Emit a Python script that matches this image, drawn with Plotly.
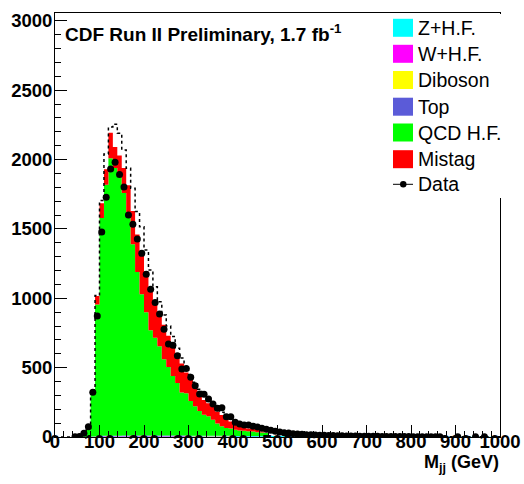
import plotly.graph_objects as go

# ---------------- data (10 GeV bins, 0..1000 GeV) ----------------
bin_edges = list(range(0, 1010, 10))
bin_centers = [e + 5 for e in bin_edges[:-1]]

data_counts = (
    [None, None, None, None, 2, 3, 27, 74, 322, 872]
    + [1478, 1729, 1933, 1981, 1892, 1802, 1600, 1534, 1427, 1324]
    + [1173, 1065, 969, 887, 776, 670, 662, 586, 490, 494]
    + [430, 370, 310, 308, 274, 238, 208, 210, 146, 146]
    + [106, 94, 87, 86, 78, 72, 63, 55, 48, 42]
    + [36, 31, 28, 24, 22, 19, 17, 16, 14, 13]
    + [12, 11, 10, 9, 9, 8, 7, 7, 6, 6]
    + [5, 5, 5, 4, 4, 4, 3, 3, 3, 3]
    + [2, 2, 1, 2, 1, 1, 1, None, None, None]
    + [1, None, None, None, 1, None, 1, None, None, None]
)

z_hf = (
    [0, 0, 0, 0, 0, 0, 1, 1, 2, 3]
    + [4] * 10 + [4] * 10 + [4] * 10
    + [5, 5, 5, 5, 5, 5, 5, 5, 8, 8]
    + [7, 6, 5, 4, 3, 3, 3, 2, 2, 2]
    + [2] * 10 + [2] * 10 + [1] * 10 + [1] * 10
)
w_hf = (
    [0, 0, 0, 0, 0, 0, 0, 1, 2, 3]
    + [3] * 10 + [3] * 10 + [2] * 10
    + [1, 1, 1, 1, 1, 1, 1, 1, 0, 0]
    + [0] * 50
)
diboson = [0] * 10 + [1] * 30 + [0] * 60
top = [0] * 10 + [1, 1, 1, 1, 1, 2, 2, 2, 2, 2] + [2] * 20 + [1, 1, 1, 1, 1, 1, 1, 1, 0, 0] + [0] * 50
qcd_hf = (
    [0, 0, 0, 0, 0, 0, 15, 50, 300, 950]
    + [1570, 1810, 2000, 1930, 1870, 1750, 1610, 1380, 1180, 1020]
    + [890, 760, 705, 645, 550, 495, 430, 380, 310, 305]
    + [250, 212, 178, 152, 140, 116, 88, 68, 56, 52]
    + [45, 40, 38, 35, 32, 28, 25, 22, 0, 0]
    + [0] * 50
)
mistag = (
    [0, 0, 0, 0, 0, 0, 4, 8, 31, 61]
    + [106, 111, 185, 151, 151, 180, 195, 240, 270, 310]
    + [295, 275, 240, 225, 250, 225, 211, 201, 210, 150]
    + [152, 130, 116, 106, 94, 94, 86, 82, 69, 50]
    + [47, 40, 30, 20, 19, 15, 8, 1, 0, 0]
    + [0] * 50
)
dotted_total = (
    [0, 0, 0, 0, 3, 5, 22, 65, 340, 1020]
    + [1705, 2040, 2235, 2255, 2190, 2070, 1937, 1793, 1625, 1516]
    + [1348, 1204, 1084, 975, 880, 800, 725, 640, 570, 505]
    + [450, 395, 345, 305, 270, 245, 200, 178, 150, 135]
    + [122, 108, 95, 85, 78, 70, 62, 55, 48, 42]
    + [37, 33, 29, 25, 22, 19, 17, 15, 13, 12]
    + [10, 9, 8, 8, 7, 6, 6, 5, 5, 4]
    + [4, 4, 3, 3, 3, 3, 2, 2, 2, 2]
    + [2, 2, 2, 2, 1, 1, 1, 1, 1, 1]
    + [1] * 10
)

components = [
    ("Z+H.F.", z_hf, "#00FFFF"),
    ("W+H.F.", w_hf, "#FF00FF"),
    ("Diboson", diboson, "#FFFF00"),
    ("Top", top, "#5B5BD8"),
    ("QCD H.F.", qcd_hf, "#00FF00"),
    ("Mistag", mistag, "#FF0000"),
]
x_ticks = [0, 100, 200, 300, 400, 500, 600, 700, 800, 900, 1000]
y_ticks = [0, 500, 1000, 1500, 2000, 2500, 3000]

# ---------------- figure ----------------
W, H = 524, 484
L, R, T, B = 55, 500, 13, 437
FONT = "Liberation Sans, Arial, sans-serif"


def px(xp):
    return (xp - L) / (R - L)


def py(yp):
    return (B - yp) / (B - T)


fig = go.Figure()

step_x = bin_edges  # left edges plus final right edge
for name, vals, col in components:
    fig.add_trace(go.Scatter(
        x=step_x, y=list(vals) + [vals[-1]],
        mode="lines", line=dict(width=0, shape="hv"),
        stackgroup="mc", fillcolor=col, name=name, showlegend=False,
        hoverinfo="skip",
    ))

fig.add_trace(go.Scatter(
    x=step_x, y=list(dotted_total) + [dotted_total[-1]],
    mode="lines", line=dict(color="black", width=1.5, dash="dot", shape="hv"),
    showlegend=False, hoverinfo="skip",
))

fig.add_trace(go.Scatter(
    x=bin_centers, y=data_counts, mode="markers",
    marker=dict(color="black", size=7),
    showlegend=False, name="Data",
))

tickfont = dict(family=FONT, size=18.5, color="black")

fig.update_layout(
    width=W, height=H, autosize=False,
    margin=dict(l=L, r=W - R, t=T, b=H - B, autoexpand=False),
    paper_bgcolor="white", plot_bgcolor="white",
    showlegend=False,
    xaxis=dict(
        range=[0, 1000], tickvals=x_ticks, ticktext=["<b>%d</b>" % v for v in x_ticks],
        ticks="inside", ticklen=12, tickwidth=1, tickcolor="black",
        minor=dict(ticks="inside", ticklen=6, dtick=20, tickcolor="black", showgrid=False),
        showline=True, linecolor="black", linewidth=1, mirror=True,
        showgrid=False, zeroline=False, tickfont=tickfont, ticklabelstandoff=-12,
        automargin=False,
    ),
    yaxis=dict(
        range=[0, 3057], tickvals=y_ticks, ticktext=["<b>%d</b>" % v for v in y_ticks],
        ticks="inside", ticklen=12, tickwidth=1, tickcolor="black",
        minor=dict(ticks="inside", ticklen=6, dtick=100, tickcolor="black", showgrid=False),
        showline=True, linecolor="black", linewidth=1, mirror=True,
        showgrid=False, zeroline=False, tickfont=tickfont, ticklabelstandoff=-2,
        automargin=False,
    ),
)

# legend (ROOT-style box)
shapes = [dict(type="rect", xref="paper", yref="paper",
               x0=px(386), x1=px(503), y0=py(198), y1=py(14),
               fillcolor="white", line=dict(width=0), layer="above")]
annotations = []
leg_centers = [27.8, 53.8, 80.0, 106.7, 132.5, 159.2]
for (name, vals, col), yc in zip(components, leg_centers):
    shapes.append(dict(type="rect", xref="paper", yref="paper",
                       x0=px(393), x1=px(413), y0=py(yc + 9), y1=py(yc - 9),
                       fillcolor=col, line=dict(width=0), layer="above"))
    annotations.append(dict(xref="paper", yref="paper", x=px(415.5), y=py(yc),
                            xanchor="left", yanchor="middle", showarrow=False,
                            text=name, font=dict(family=FONT, size=19.5, color="black")))
# data entry
yd = 184.3
shapes.append(dict(type="line", xref="paper", yref="paper",
                   x0=px(393), x1=px(413), y0=py(yd), y1=py(yd),
                   line=dict(color="black", width=1), layer="above"))
shapes.append(dict(type="circle", xref="paper", yref="paper",
                   x0=px(400), x1=px(406.5), y0=py(yd + 3.2), y1=py(yd - 3.2),
                   fillcolor="black", line=dict(width=0), layer="above"))
annotations.append(dict(xref="paper", yref="paper", x=px(415.5), y=py(yd),
                        xanchor="left", yanchor="middle", showarrow=False,
                        text="Data", font=dict(family=FONT, size=19.5, color="black")))

# title text inside frame
annotations.append(dict(xref="paper", yref="paper", x=px(63), y=py(33),
                        xanchor="left", yanchor="middle", showarrow=False,
                        text="<b>CDF Run II Preliminary, 1.7 fb<sup>-1</sup></b>",
                        font=dict(family=FONT, size=19, color="black")))
# x-axis title
annotations.append(dict(xref="paper", yref="paper", x=px(501), y=py(463),
                        xanchor="right", yanchor="middle", showarrow=False,
                        text="<b>M<sub>jj</sub> (GeV)</b>",
                        font=dict(family=FONT, size=18, color="black")))

fig.update_layout(shapes=shapes, annotations=annotations)
fig.write_html(
    "out.html",
    config={"displayModeBar": False, "responsive": False},
    default_width="524px", default_height="484px",
    post_script=(
        "document.documentElement.style.margin='0px';"
        "document.body.style.margin='0px';"
        "document.documentElement.style.overflow='hidden';"
        "document.body.style.overflow='hidden';"
    ),
)
